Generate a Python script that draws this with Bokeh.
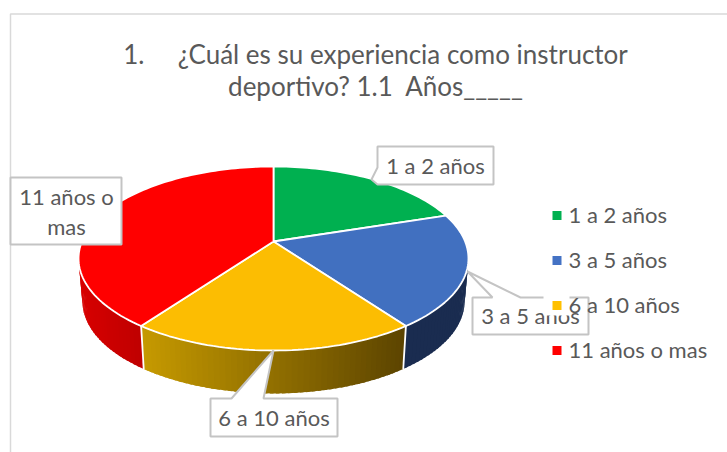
import math
from bokeh.plotting import figure
from bokeh.models import Range1d
from bokeh.core.properties import value
from bokeh.embed import file_html
from bokeh.resources import INLINE

# ---- data
categories = ["1 a 2 años", "3 a 5 años", "6 a 10 años", "11 años o mas"]
shares = [20, 20, 20, 40]
title_lines = ["1.\u00a0\u00a0\u00a0\u00a0\u00a0¿Cuál es su experiencia como instructor", "deportivo? 1.1\u00a0\u00a0Años_____"]
data_labels = ["1 a 2 años", "3 a 5 años", "6 a 10 años", "11 años o"]

# ---- style
top_colors = ["#00b050", "#4170c0", "#fcbd02", "#ff0000"]
legend_colors = ["#00b050", "#4472c4", "#ffc000", "#ff0000"]
wall_left = ["#00803a", "#1a2c50", "#c69a00", "#d60000"]
wall_right = ["#00803a", "#1a2c50", "#5c4400", "#bf0000"]
TXT = "#595959"
GREY = "#c4c4c4"
FONT = value("Lato")

p = figure(width=727, height=452, x_range=Range1d(0, 727), y_range=Range1d(452, 0),
           toolbar_location=None, output_backend="svg", min_border=0,
           x_axis_location=None, y_axis_location=None)
p.grid.visible = False
p.outline_line_color = None

# frame of the chart
p.line([10, 10, 727], [452, 13.5, 13.5], line_color="#d9d9d9", line_width=1.5)

# perspective pie geometry
CX, CY = 273, 241
A, K, B = 88.85, 0.1847, 191.6
DEPTH, SHRINK = 43, 0.98

def rim(deg):
    t = math.radians(deg)
    d = 1 + K * math.cos(t)
    return CX + B * math.sin(t) / d, CY - A * math.cos(t) / d

def under(deg):
    x, y = rim(deg)
    return CX + (x - CX) * SHRINK, y + DEPTH

def lerp_hex(a, b, f):
    ca = [int(a[i:i + 2], 16) for i in (1, 3, 5)]
    cb = [int(b[i:i + 2], 16) for i in (1, 3, 5)]
    return "#%02x%02x%02x" % tuple(round(u + (v - u) * f) for u, v in zip(ca, cb))

total = sum(shares)
edges = [0]
for s in shares:
    edges.append(edges[-1] + 360 * s / total)

# side wall: strips drawn in order, each one reaching past the next, so no seams show
xs, ys, cs = [], [], []
for i in range(len(shares)):
    a0, a1 = max(edges[i], 90), min(edges[i + 1], 270)
    if a1 <= a0:
        continue
    x_a, x_b = sorted((rim(a0)[0], rim(a1)[0]))
    n = max(2, int((a1 - a0) / 1.5))
    for j in range(n):
        u, v = a0 + (a1 - a0) * j / n, a0 + (a1 - a0) * (j + 1.6) / n
        v = min(v, a1)
        pts = [rim(u), rim(v), under(v), under(u)]
        xs.append([q[0] for q in pts])
        ys.append([q[1] for q in pts])
        f = (rim(a0 + (a1 - a0) * (j + 0.5) / n)[0] - x_a) / (x_b - x_a)
        cs.append(lerp_hex(wall_left[i], wall_right[i], f))
p.patches(xs, ys, fill_color=cs, line_color=None)

# white seams between wall sections
for e in edges:
    if 90 < e < 270:
        a, b = rim(e), under(e)
        p.line([a[0], b[0]], [a[1], b[1]], line_color="white", line_width=1.8)

# top of the pie
xs, ys = [], []
for i in range(len(shares)):
    n = max(2, int((edges[i + 1] - edges[i]) / 1.5))
    pts = [(CX, CY)] + [rim(edges[i] + (edges[i + 1] - edges[i]) * j / n) for j in range(n + 1)]
    xs.append([q[0] for q in pts])
    ys.append([q[1] for q in pts])
p.patches(xs, ys, fill_color=top_colors, line_color="white", line_width=1.8)

# data-label callouts (box with pointer)
def callout(px, py):
    p.patch(px, py, fill_color="white", line_color=GREY, line_width=2)

# 1 a 2 años
callout([377, 493, 493, 377, 371, 377], [146, 146, 184, 184, 179, 167])
# 11 años o mas (no visible pointer)
callout([10, 121, 121, 10], [177, 177, 244, 244])
# 6 a 10 años
tip = rim(edges[2] + (edges[3] - edges[2]) / 2)
callout([210, 231, tip[0], 263, 337, 337, 210], [398, 398, tip[1], 398, 398, 436, 436])
# 3 a 5 años
callout([472, 492, 467, 520, 588, 588, 472], [297, 297, 271, 297, 297, 334, 334])

label_x = [435, 530, 273.5, 66]
label_y = [165, 315, 417, 196]
p.text(label_x, label_y, text=data_labels, text_font=FONT, text_font_size="22px", text_color=TXT,
       text_align="center", text_baseline="middle")
p.text([66], [226], text=["mas"], text_font=FONT, text_font_size="22px", text_color=TXT,
       text_align="center", text_baseline="middle")

# legend: the entry for 6 a 10 años paints over the 3 a 5 años callout
legend_y = [215 + 45 * i for i in range(len(categories))]
p.quad(left=[543], right=[569], top=[292], bottom=[315], fill_color="white", line_color=None)
p.scatter([556.5] * 4, legend_y, marker="square", size=9, fill_color=legend_colors, line_color=None)
p.text([568] * 4, [y - 1 for y in legend_y], text=categories, text_font=FONT, text_font_size="22px",
       text_color=TXT, text_align="left", text_baseline="middle")

# title
p.text([375, 375], [53, 85], text=title_lines, text_font=FONT, text_font_size="26px", text_color=TXT,
       text_align="center", text_baseline="middle")

open("out.html", "w").write(file_html(p, INLINE))
